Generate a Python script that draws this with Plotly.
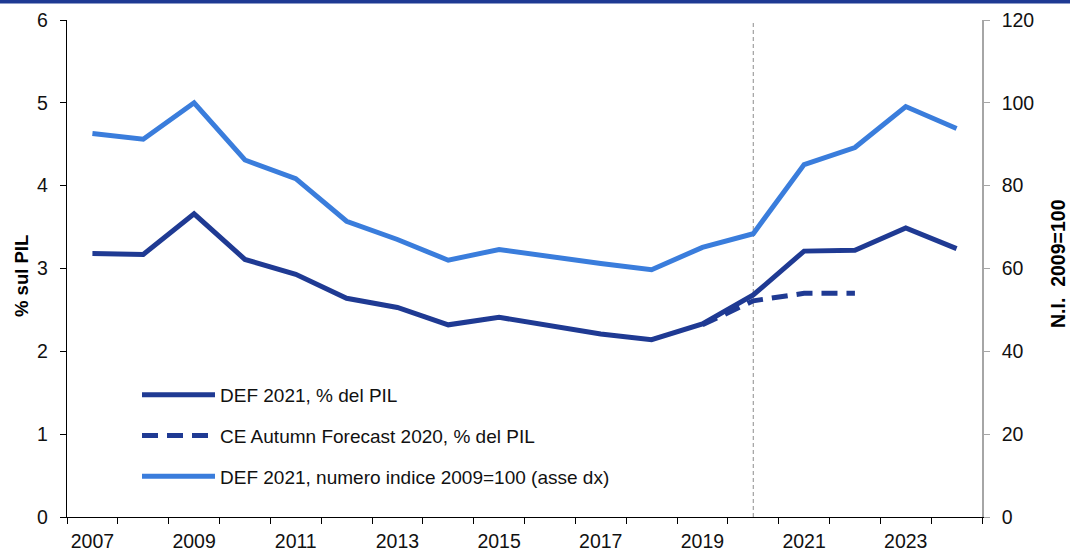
import plotly.graph_objects as go

years = list(range(2007, 2025))
def_pil = [3.18, 3.17, 3.66, 3.11, 2.93, 2.64, 2.53, 2.32, 2.41, 2.31, 2.21, 2.14, 2.33, 2.68, 3.21, 3.22, 3.49, 3.24]
ce_years = [2019, 2020, 2021, 2022]
ce_pil = [2.32, 2.61, 2.70, 2.70]
def_idx = [92.6, 91.2, 100.0, 86.2, 81.7, 71.4, 67.0, 62.0, 64.6, 62.8, 61.2, 59.7, 65.1, 68.4, 85.1, 89.2, 99.1, 93.8]

x_labels = [2007, 2009, 2011, 2013, 2015, 2017, 2019, 2021, 2023]
left_ticks = [0, 1, 2, 3, 4, 5, 6]
right_ticks = [0, 20, 40, 60, 80, 100, 120]
forecast_year = 2020

names = ["DEF 2021, % del PIL", "CE Autumn Forecast 2020, % del PIL",
         "DEF 2021, numero indice 2009=100 (asse dx)"]
left_title = "<b>% sul PIL</b>"
right_title = "<b>N.I.\u00a0 2009=100</b>"

DARK = "#1f3a93"
LIGHT = "#3a7ddc"
FONT = "Liberation Sans"

L, R, T, B = 67, 88, 20, 36
W, H = 1070, 553
PW, PH = W - L - R, H - T - B

fig = go.Figure()
fig.add_trace(go.Scatter(x=years, y=def_pil, mode="lines", name=names[0],
                         line=dict(color=DARK, width=5), legendgroup="a"))
fig.add_trace(go.Scatter(x=ce_years, y=ce_pil, mode="lines", name=names[1],
                         line=dict(color=DARK, width=5, dash="16px,9px"), legendgroup="b"))
fig.add_trace(go.Scatter(x=years, y=def_idx, mode="lines", name=names[2], yaxis="y2",
                         line=dict(color=LIGHT, width=5), legendgroup="c"))

fig.add_shape(type="line", xref="x", yref="paper", x0=forecast_year, x1=forecast_year,
              y0=0, y1=1, line=dict(color="#8c8c8c", width=1, dash="4px,3px"), layer="below")
# top band
fig.add_shape(type="rect", xref="paper", yref="paper", x0=-1, x1=2,
              y0=1 + (T - 3.5) / PH, y1=1 + (T + 1) / PH, line=dict(width=0), fillcolor=DARK)

fig.add_annotation(text=left_title, xref="paper", yref="paper",
                   x=(21 - L) / PW, y=(H - B - 276) / PH, textangle=-90, showarrow=False,
                   xanchor="center", yanchor="middle", font=dict(size=18.5, color="#000"))
fig.add_annotation(text=right_title, xref="paper", yref="paper",
                   x=(1058 - L) / PW, y=(H - B - 264) / PH, textangle=-90, showarrow=False,
                   xanchor="center", yanchor="middle", font=dict(size=19.5, color="#000"))

fig.update_layout(
    width=W, height=H,
    margin=dict(l=L, r=R, t=T, b=B, autoexpand=False),
    paper_bgcolor="white", plot_bgcolor="white",
    font=dict(family=FONT, size=19, color="#111"),
    showlegend=True,
    legend=dict(x=(137 - L) / PW, y=(H - B - 376) / PH, xanchor="left", yanchor="top",
                bgcolor="rgba(0,0,0,0)", font=dict(size=19, color="#111"),
                itemwidth=73, tracegroupgap=13, traceorder="grouped"),
    xaxis=dict(range=[2006.5, 2024.5], tickvals=x_labels, ticks="outside", ticklen=6,
               tickcolor="rgba(0,0,0,0)", showgrid=False, zeroline=False, automargin=False,
               showline=True, linecolor="#000", linewidth=1.3,
               tickfont=dict(size=19.5, color="#111"),
               minor=dict(tickvals=[y - 0.5 for y in years] + [2024.5], ticks="outside",
                          ticklen=6, tickcolor="#000", tickwidth=1.3, showgrid=False)),
    yaxis=dict(range=[0, 6], tickvals=left_ticks, ticks="outside", ticklen=6,
               tickcolor="#000", tickwidth=1.3, showgrid=False, zeroline=False, automargin=False,
               showline=True, linecolor="#000", linewidth=1.3, ticklabelstandoff=8,
               tickfont=dict(size=19.5, color="#111")),
    yaxis2=dict(range=[0, 120], tickvals=right_ticks, overlaying="y", side="right",
                ticks="outside", ticklen=6, tickcolor="#a6a6a6", tickwidth=1.3, automargin=False,
                showgrid=False, zeroline=False, showline=True, linecolor="#a6a6a6",
                linewidth=1.5, ticklabelstandoff=8, tickfont=dict(size=19.5, color="#111")),
)

fig.write_html("out.html", config={"displayModeBar": False},
               post_script="document.body.style.margin='0';document.body.style.overflow='hidden';")
